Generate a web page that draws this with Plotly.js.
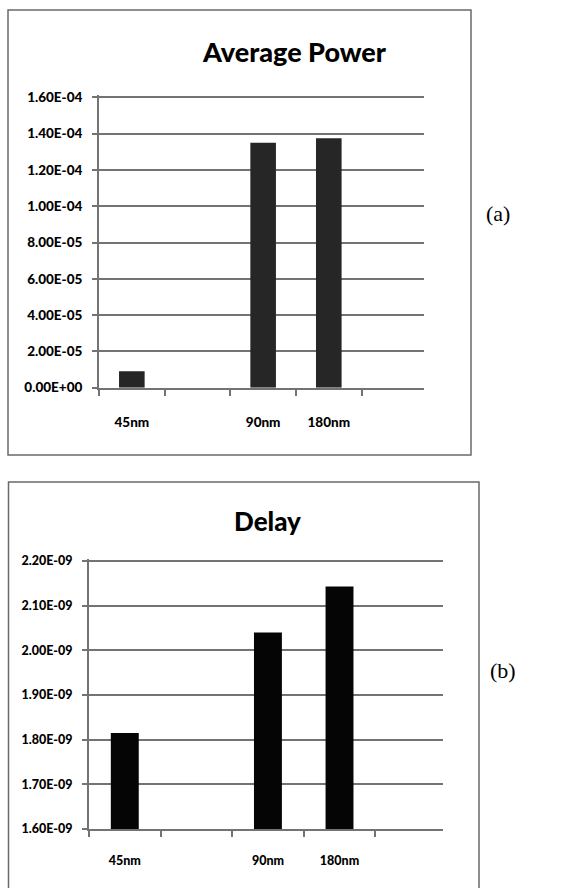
<!DOCTYPE html>
<html>
<head>
<meta charset="utf-8">
<script src="https://cdn.plot.ly/plotly-3.0.1.min.js"></script>
<style>html,body{margin:0;padding:0;background:#fff;}#chart{width:574px;height:888px;}</style>
</head>
<body>
<div id="chart"></div>
<script>
// ---- data ----
const categories = ['45nm', ' ', '90nm', '180nm', '  '];
const averagePower = [9.0e-6, null, 1.35e-4, 1.375e-4, null];
const delayValues = [1.815e-9, null, 2.04e-9, 2.143e-9, null];

const powerTickVals = [0, 2e-5, 4e-5, 6e-5, 8e-5, 1.0e-4, 1.2e-4, 1.4e-4, 1.6e-4];
const powerTickText = ['0.00E+00', '2.00E-05', '4.00E-05', '6.00E-05', '8.00E-05', '1.00E-04', '1.20E-04', '1.40E-04', '1.60E-04'];
const delayTickVals = [1.6e-9, 1.7e-9, 1.8e-9, 1.9e-9, 2.0e-9, 2.1e-9, 2.2e-9];
const delayTickText = ['1.60E-09', '1.70E-09', '1.80E-09', '1.90E-09', '2.00E-09', '2.10E-09', '2.20E-09'];

const titleA = 'Average Power';
const titleB = 'Delay';
const labelA = '(a)';
const labelB = '(b)';

// ---- layout helpers (pixel -> paper) ----
const W = 574, H = 888;
const px = v => v / W;
const py = v => 1 - v / H;

const GRID = '#737373';
const FONT = 'Lato, "Open Sans", sans-serif';

const traces = [
  {type: 'bar', x: categories, y: averagePower, xaxis: 'x', yaxis: 'y',
   marker: {color: '#262626', line: {width: 0}}, hoverinfo: 'x+y'},
  {type: 'bar', x: categories, y: delayValues, xaxis: 'x2', yaxis: 'y2',
   marker: {color: '#050505', line: {width: 0}}, hoverinfo: 'x+y'}
];

function xAxis(domain, anchor, fontSize, standoff) {
  return {
    domain: domain, anchor: anchor, type: 'category',
    categoryorder: 'array', categoryarray: categories,
    range: [-0.5, 4.45],
    tickson: 'boundaries', ticks: 'outside', ticklen: 6, tickwidth: 2, tickcolor: GRID,
    showline: true, linecolor: GRID, linewidth: 2,
    showgrid: false, zeroline: false,
    tickfont: {family: FONT, size: fontSize, color: '#000', weight: 900},
    ticklabelstandoff: standoff, fixedrange: true
  };
}
function yAxis(domain, anchor, range, vals, text, fontSize) {
  return {
    domain: domain, anchor: anchor, range: range,
    tickmode: 'array', tickvals: vals, ticktext: text,
    ticks: 'outside', ticklen: 5, tickwidth: 2, tickcolor: GRID,
    showline: true, linecolor: GRID, linewidth: 2,
    showgrid: true, gridcolor: GRID, gridwidth: 2, zeroline: false,
    tickfont: {family: FONT, size: fontSize, color: '#000', weight: 900},
    ticklabelstandoff: 7, fixedrange: true
  };
}

const layout = {
  width: W, height: H, autosize: false,
  margin: {l: 0, r: 0, t: 0, b: 0, pad: 0},
  paper_bgcolor: '#fff', plot_bgcolor: 'rgba(0,0,0,0)',
  showlegend: false, bargap: 0.61,
  font: {family: FONT},
  xaxis: xAxis([px(99), px(424)], 'y', 13.5, 21),
  yaxis: yAxis([py(387.7), py(95.3)], 'x', [0, 1.611e-4], powerTickVals, powerTickText, 13.5),
  xaxis2: xAxis([px(89), px(443.3)], 'y2', 12.5, 19),
  yaxis2: yAxis([py(829), py(559)], 'x2', [1.6e-9, 2.2045e-9], delayTickVals, delayTickText, 12.5),
  shapes: [
    {type: 'rect', xref: 'paper', yref: 'paper', x0: px(8), x1: px(471), y0: py(455), y1: py(10),
     line: {color: '#6a6a6a', width: 1.5}, fillcolor: 'rgba(0,0,0,0)', layer: 'below'},
    {type: 'rect', xref: 'paper', yref: 'paper', x0: px(8.5), x1: px(479), y0: py(895), y1: py(482),
     line: {color: '#6a6a6a', width: 1.5}, fillcolor: 'rgba(0,0,0,0)', layer: 'below'}
  ],
  annotations: [
    {text: titleA, xref: 'paper', yref: 'paper', x: px(294), y: py(52), xanchor: 'center', yanchor: 'middle',
     showarrow: false, font: {family: FONT, size: 27, color: '#000', weight: 900}},
    {text: titleB, xref: 'paper', yref: 'paper', x: px(267), y: py(521), xanchor: 'center', yanchor: 'middle',
     showarrow: false, font: {family: FONT, size: 26, color: '#000', weight: 900}},
    {text: labelA, xref: 'paper', yref: 'paper', x: px(498), y: py(213), xanchor: 'center', yanchor: 'middle',
     showarrow: false, font: {family: '"Liberation Serif", serif', size: 22, color: '#000'}},
    {text: labelB, xref: 'paper', yref: 'paper', x: px(503), y: py(670), xanchor: 'center', yanchor: 'middle',
     showarrow: false, font: {family: '"Liberation Serif", serif', size: 22, color: '#000'}}
  ]
};

Plotly.newPlot('chart', traces, layout, {staticPlot: true, displayModeBar: false});
</script>
</body>
</html>
